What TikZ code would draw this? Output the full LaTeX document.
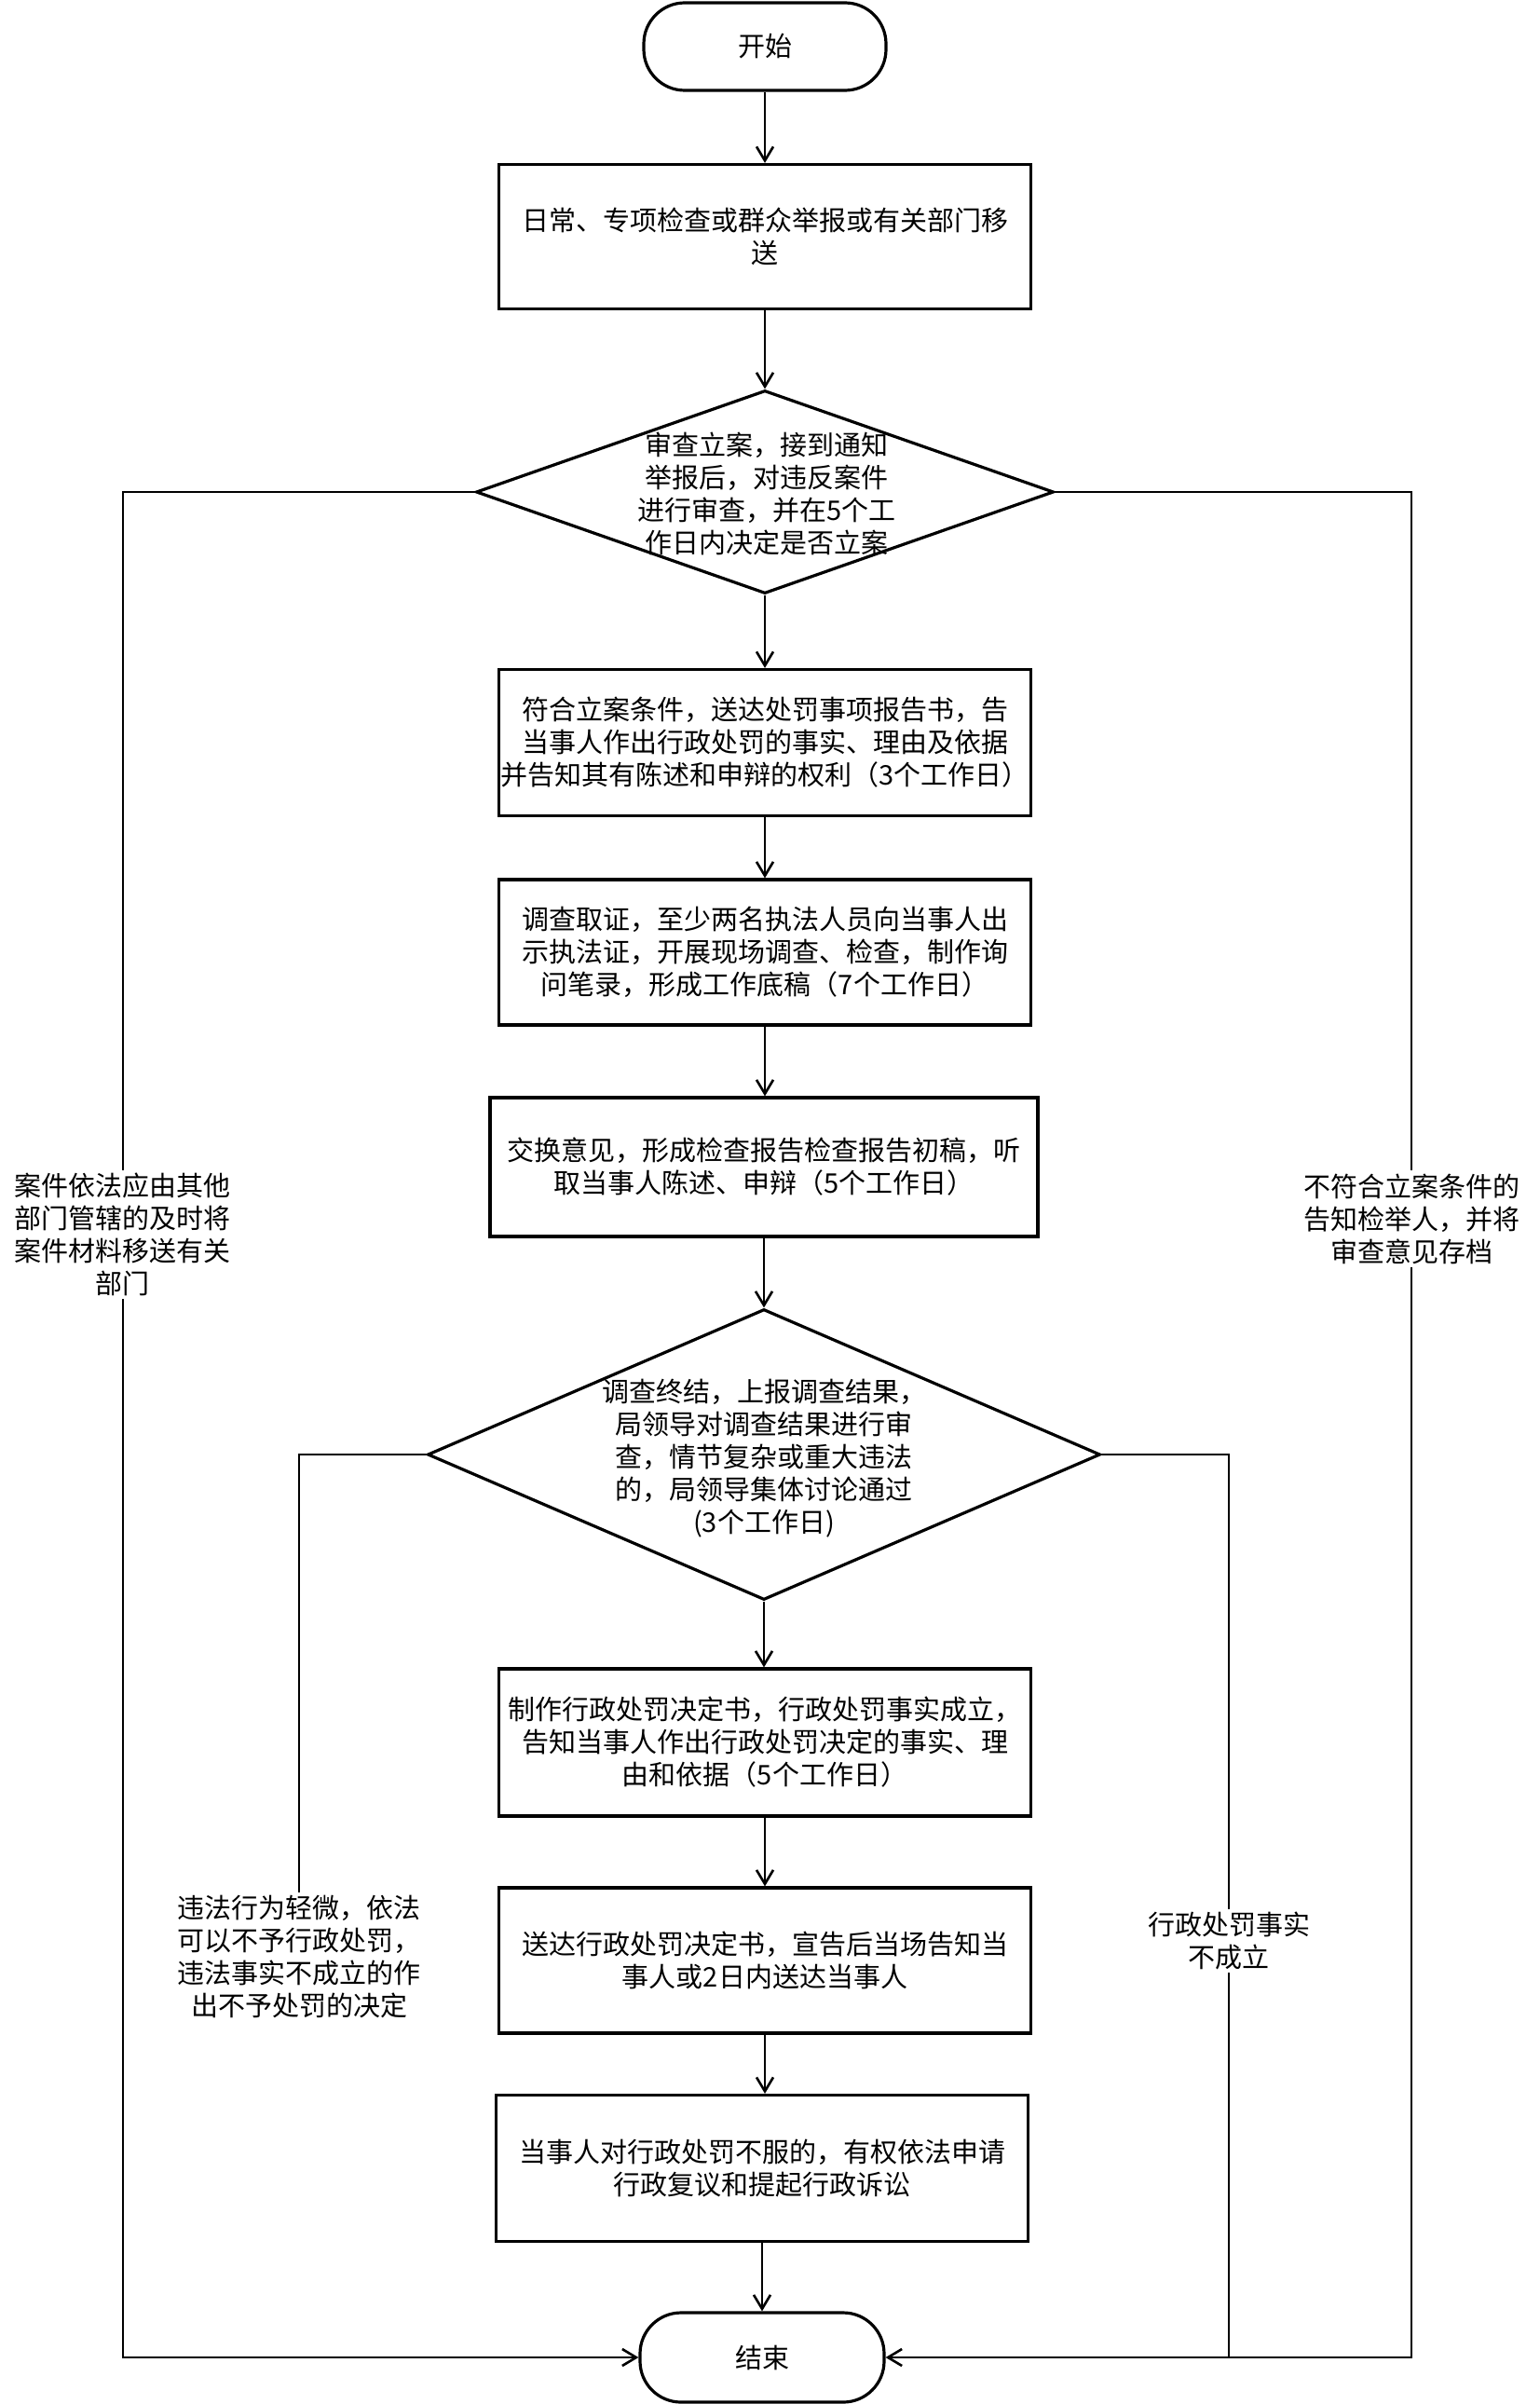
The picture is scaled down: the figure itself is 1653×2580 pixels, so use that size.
\documentclass[tikz,border=0pt]{standalone}
\usepackage{fontspec}
\newfontfamily\cjk{Noto Sans CJK SC}
\usetikzlibrary{shapes.geometric,arrows.meta}
\begin{document}
\begin{tikzpicture}[x=0.5pt,y=-0.5pt,
  txt/.style={font=\cjk\fontsize{14.5}{17.5}\selectfont, align=center},
  box/.style={txt, draw, line width=1.6pt, rectangle, inner sep=0pt, minimum width=285.5pt},
  term/.style={txt, draw, line width=1.6pt, rectangle, rounded corners=22pt, inner sep=0pt},
  dia/.style={draw, line width=1.6pt, diamond, inner sep=0pt},
  lbl/.style={txt, fill=white, inner sep=1.5pt},
  ln/.style={line width=1.4pt},
  arr/.style={ln, -{Straight Barb[length=7.5pt,width=9pt,line width=1.3pt]}}]
\fill[white] (0,0) rectangle (1653,2580);
\useasboundingbox (0,0) rectangle (1653,2580);

\node[term, minimum width=130pt, minimum height=47pt] (start) at (821,50) {开始};
\node[box, minimum height=77.5pt] (b1) at (821,254) {日常、专项检查或群众举报或有关部门移\\送};
\node[dia, minimum width=310pt, minimum height=109pt] (d1) at (821,528) {};
\node[txt] (d1t) at (823,530) {审查立案，接到通知\\举报后，对违反案件\\进行审查，并在5个工\\作日内决定是否立案};
\node[box, minimum height=78.5pt] (b2) at (821,797) {符合立案条件，送达处罚事项报告书，告\\当事人作出行政处罚的事实、理由及依据\\并告知其有陈述和申辩的权利（3个工作日）};
\node[box, minimum height=78pt] (b3) at (821,1022) {调查取证，至少两名执法人员向当事人出\\示执法证，开展现场调查、检查，制作询\\问笔录，形成工作底稿（7个工作日）};
\node[box, minimum width=294pt, minimum height=74.5pt] (b4) at (820,1252.5) {交换意见，形成检查报告检查报告初稿，听\\取当事人陈述、申辩（5个工作日）};
\node[dia, minimum width=361pt, minimum height=156pt] (d2) at (820,1561) {};
\node[txt] (d2t) at (820,1565) {调查终结，上报调查结果，\\局领导对调查结果进行审\\查，情节复杂或重大违法\\的，局领导集体讨论通过\\(3个工作日)};
\node[box, minimum height=79pt] (b5) at (821,1870) {制作行政处罚决定书，行政处罚事实成立，\\告知当事人作出行政处罚决定的事实、理\\由和依据（5个工作日）};
\node[box, minimum height=78pt] (b6) at (821,2104) {送达行政处罚决定书，宣告后当场告知当\\事人或2日内送达当事人};
\node[box, minimum height=78.5pt] (b7) at (818,2327) {当事人对行政处罚不服的，有权依法申请\\行政复议和提起行政诉讼};
\node[term, minimum width=131pt, minimum height=48pt] (end) at (818,2530) {结束};

\node[lbl] (lL) at (132,1325) {案件依法应由其他\\部门管辖的及时将\\案件材料移送有关\\部门};
\node[lbl] (lR) at (1515,1308) {不符合立案条件的\\告知检举人，并将\\审查意见存档};
\node[lbl] (lL2) at (321,2100) {违法行为轻微，依法\\可以不予行政处罚，\\违法事实不成立的作\\出不予处罚的决定};
\node[lbl] (lR2) at (1319,2083) {行政处罚事实\\不成立};

\draw[arr] (start.south) -- (start.south |- b1.north);
\draw[arr] (b1.south) -- (b1.south |- d1.north);
\draw[arr] (d1.south) -- (d1.south |- b2.north);
\draw[arr] (b2.south) -- (b2.south |- b3.north);
\draw[arr] (b3.south) -- (b3.south |- b4.north);
\draw[arr] (b4.south) -- (b4.south |- d2.north);
\draw[arr] (d2.south) -- (d2.south |- b5.north);
\draw[arr] (b5.south) -- (b5.south |- b6.north);
\draw[arr] (b6.south) -- (b6.south |- b7.north);
\draw[arr] (b7.south) -- (end.north);

\draw[ln] (d1.west) -| (lL.north);
\draw[arr] (lL.south) |- (end.west);
\draw[ln] (d1.east) -| (lR.north);
\draw[arr] (lR.south) |- (end.east);
\draw[ln] (d2.west) -| (lL2.north);
\draw[ln] (d2.east) -| (lR2.north);
\draw[ln] (lR2.south) -- (lR2.south |- end.east);
\end{tikzpicture}
\end{document}
